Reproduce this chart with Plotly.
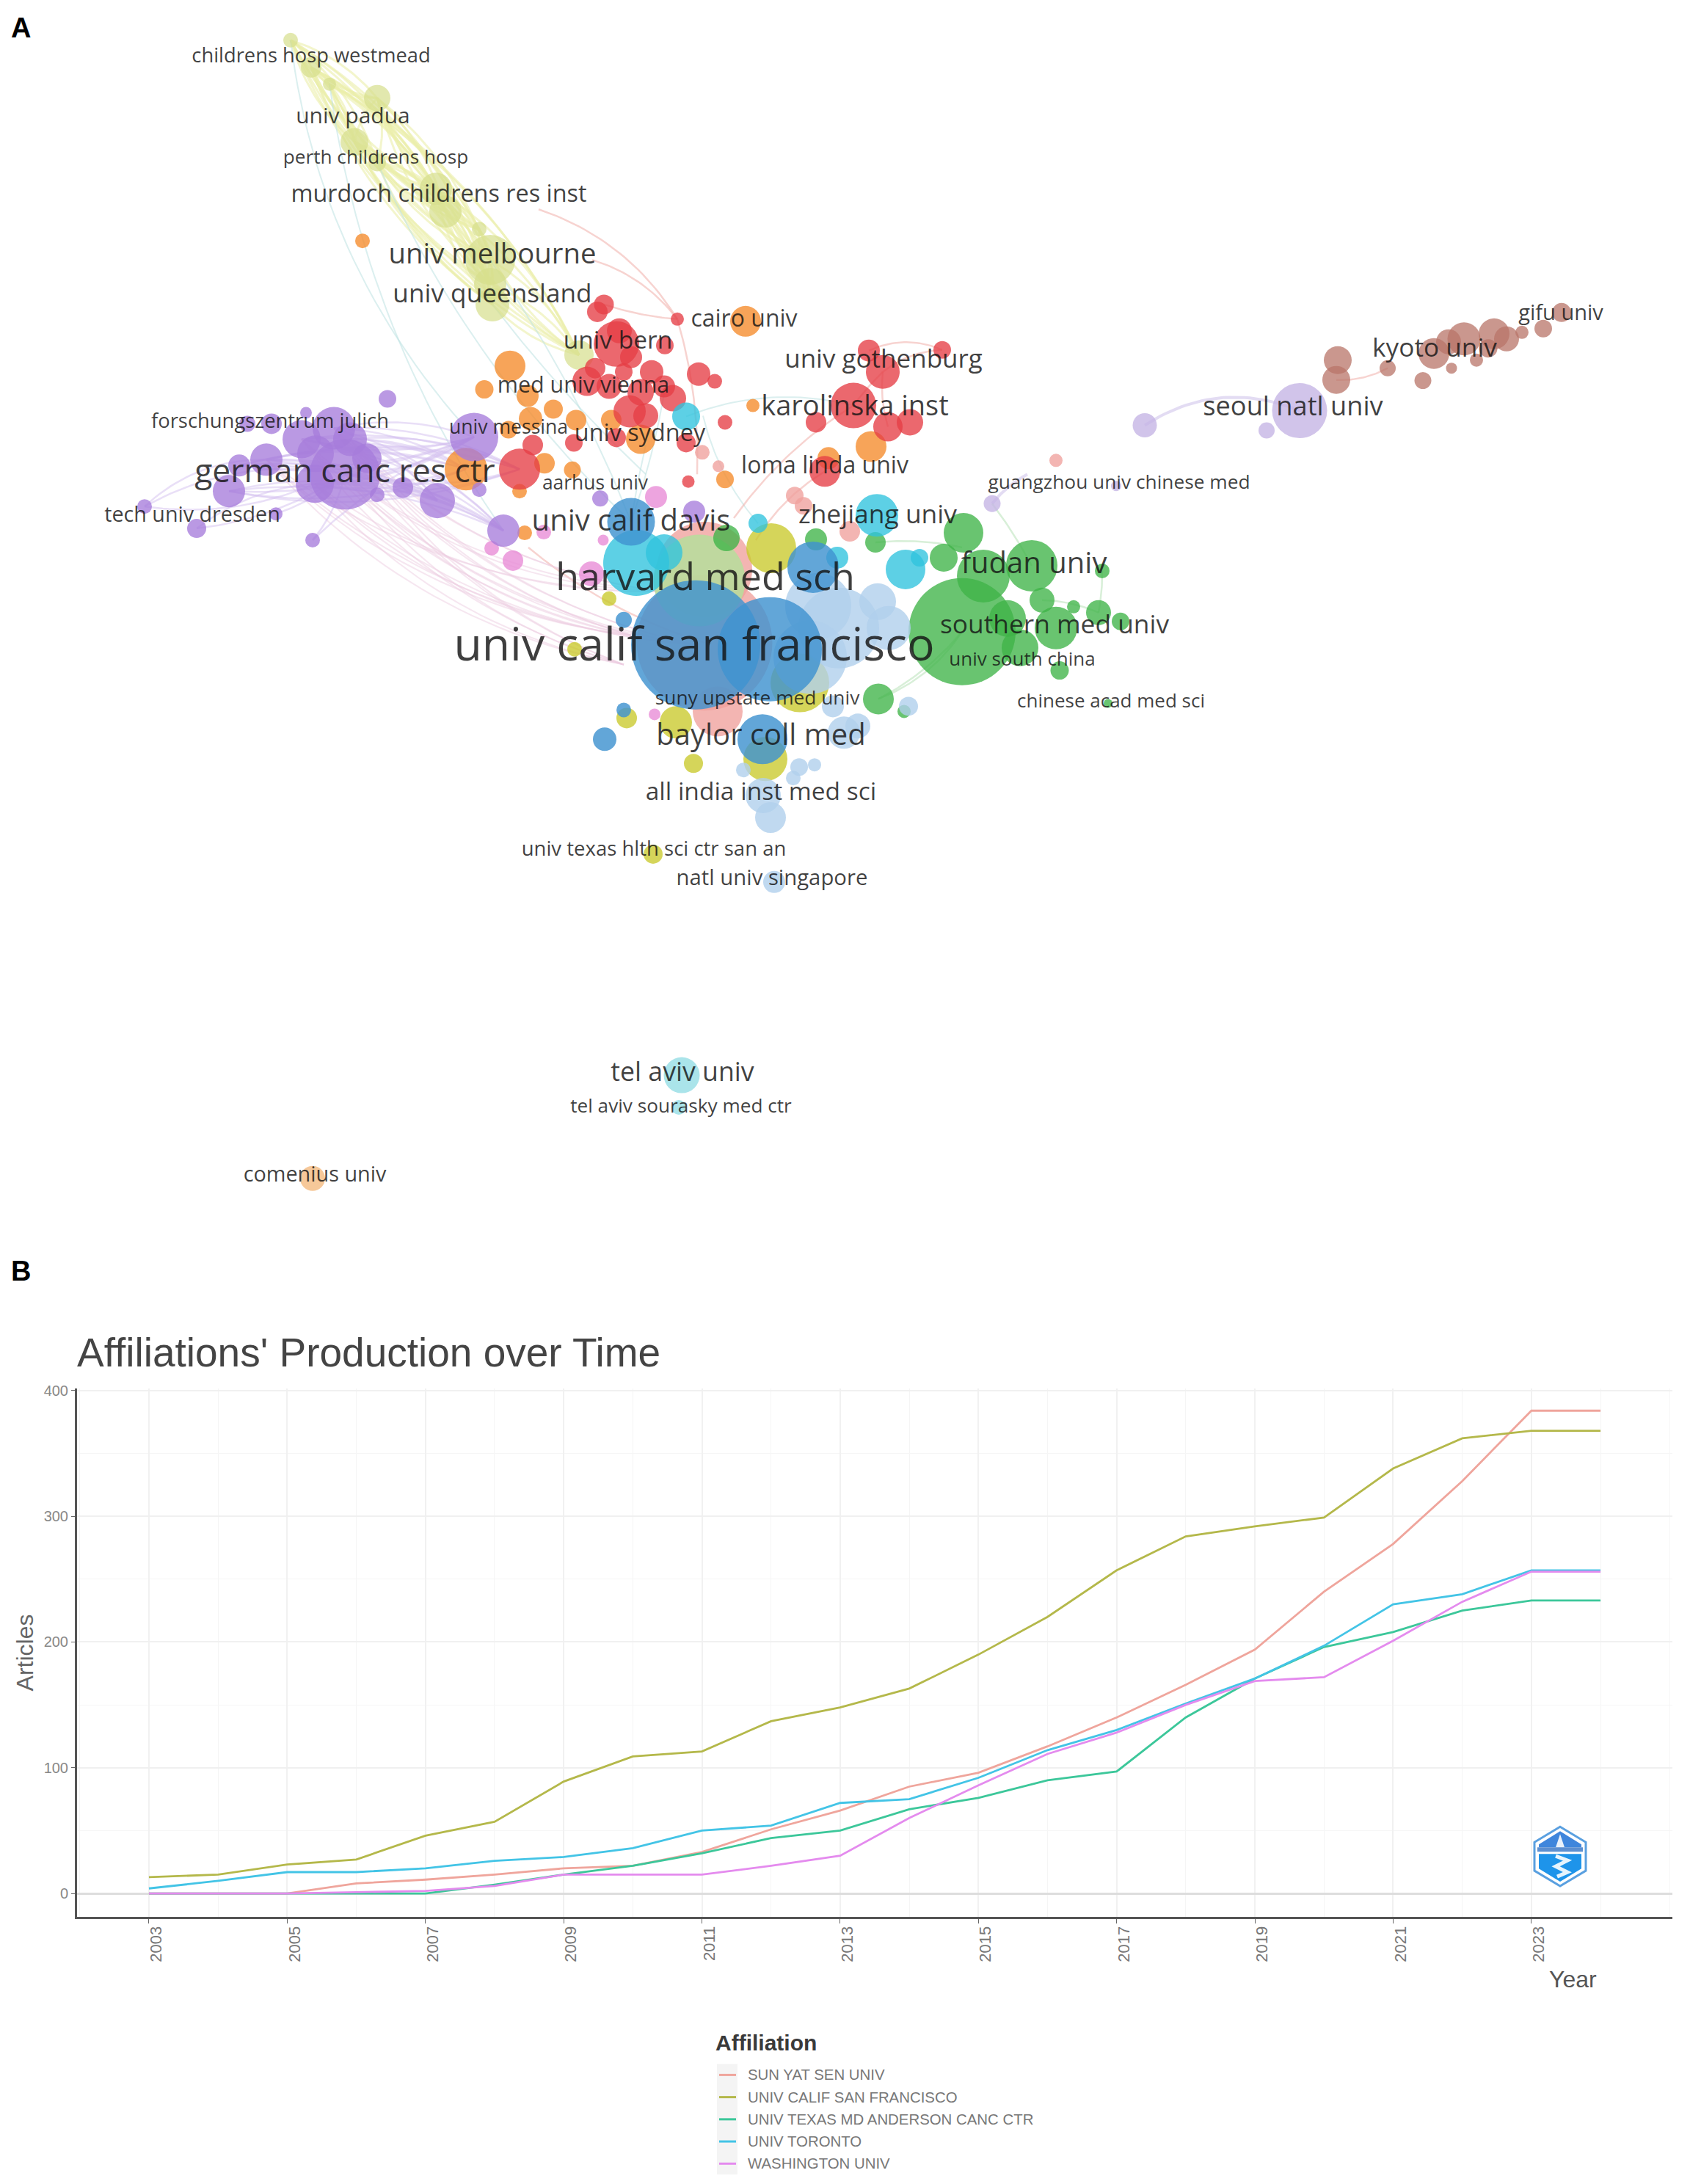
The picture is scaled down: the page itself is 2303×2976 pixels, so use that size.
from itertools import product, combinations

import numpy as np
import plotly.graph_objects as go

# --- panel B: articles per year ---
years = list(range(2003, 2025))
odd_years = [y for y in years if y % 2 == 1]
sun_yat_sen = [0, 0, 0, 8, 11, 15, 20, 22, 33, 51, 66, 85, 96, 117, 140, 166, 194, 240, 278, 328, 384, 384]
ucsf = [13, 15, 23, 27, 46, 57, 89, 109, 113, 137, 148, 163, 190, 220, 257, 284, 292, 299, 338, 362, 368, 368]
md_anderson = [0, 0, 0, 0, 0, 7, 15, 22, 32, 44, 50, 67, 76, 90, 97, 140, 171, 196, 208, 225, 233, 233]
toronto = [4, 10, 17, 17, 20, 26, 29, 36, 50, 54, 72, 75, 92, 114, 130, 151, 171, 197, 230, 238, 257, 257]
washington = [0, 0, 0, 1, 2, 6, 15, 15, 15, 22, 30, 60, 86, 111, 128, 150, 169, 172, 201, 232, 256, 256]

affiliations = ["SUN YAT SEN UNIV", "UNIV CALIF SAN FRANCISCO", "UNIV TEXAS MD ANDERSON CANC CTR",
                "UNIV TORONTO", "WASHINGTON UNIV"]
line_colors = ["#EFA59C", "#B4B84A", "#3CC79A", "#43C4E6", "#E48BEE"]

# --- panel A: network map, (x, y, diameter) in map units ---
yellow_nodes = [(396, 47, 20), (424, 84, 28), (449, 107, 18), (514, 126, 36), (483, 186, 38), (514, 214, 24),
                (594, 250, 44), (607, 281, 44), (653, 305, 20), (668, 347, 68), (668, 380, 44), (671, 408, 46),
                (789, 477, 40)]
orange_nodes = [(494, 321, 20), (1016, 431, 42), (695, 492, 42), (660, 524, 25), (719, 533, 30), (754, 551, 26),
                (723, 564, 32), (785, 566, 28), (833, 566, 28), (693, 579, 24), (873, 592, 40), (635, 633, 58),
                (742, 625, 28), (780, 634, 23), (988, 647, 24), (1026, 546, 18), (708, 663, 20), (715, 720, 20),
                (1187, 602, 42), (1129, 618, 30)]
red_nodes = [(823, 408, 27), (814, 418, 28), (923, 428, 18), (844, 444, 34), (840, 462, 62), (906, 464, 24),
             (811, 495, 28), (800, 513, 40), (850, 500, 24), (888, 500, 32), (952, 503, 32), (974, 513, 20),
             (873, 528, 36), (917, 536, 36), (858, 554, 44), (988, 569, 20), (782, 597, 24), (935, 597, 26),
             (708, 633, 56), (726, 600, 28), (938, 650, 17), (1184, 471, 30), (1203, 500, 46), (1284, 470, 24),
             (1163, 546, 62), (1112, 569, 28), (1210, 575, 40), (1240, 569, 36), (1124, 636, 42),
             (830, 520, 34), (905, 520, 30), (860, 480, 30), (880, 560, 34), (840, 590, 26)]
salmon_nodes = [(960, 770, 130), (960, 870, 185), (978, 964, 68), (1083, 669, 24), (1095, 683, 24),
                (1158, 718, 28), (1439, 621, 18), (957, 610, 20), (979, 629, 16)]
pale_green_nodes = [(953, 785, 125)]
purple_nodes = [(528, 537, 24), (417, 556, 16), (337, 571, 22), (370, 571, 28), (455, 577, 58), (411, 592, 52),
                (477, 592, 46), (470, 640, 96), (429, 653, 52), (363, 620, 44), (326, 628, 30), (312, 663, 44),
                (197, 684, 20), (268, 714, 26), (376, 694, 18), (514, 668, 20), (596, 676, 48), (646, 589, 66),
                (653, 661, 20), (426, 730, 20), (686, 717, 44), (549, 658, 28), (818, 673, 22), (946, 691, 30),
                (430, 612, 50), (500, 618, 40)]
lavender_nodes = [(1560, 573, 33), (1771, 553, 75), (1726, 580, 22), (1352, 680, 23), (1521, 656, 14)]
brown_nodes = [(1823, 484, 38), (1821, 511, 38), (1891, 495, 22), (1939, 512, 23), (1954, 475, 42), (1978, 495, 15),
               (1995, 455, 45), (2012, 484, 18), (2036, 448, 42), (2053, 455, 34), (2074, 446, 18), (2103, 441, 24),
               (2128, 419, 26), (2028, 468, 25), (1974, 459, 34)]
magenta_nodes = [(894, 671, 30), (699, 758, 28), (670, 741, 20), (806, 776, 34), (892, 968, 16), (741, 719, 20),
                 (822, 730, 15)]
green_nodes = [(1311, 855, 146), (1313, 720, 54), (1193, 733, 28), (1286, 754, 38), (1406, 765, 70), (1340, 779, 72),
               (1502, 772, 20), (1420, 812, 34), (1463, 821, 18), (1497, 829, 34), (1527, 841, 24), (1373, 837, 50),
               (1439, 850, 58), (1390, 877, 50), (1444, 908, 25), (1197, 947, 42), (1232, 964, 18), (1510, 953, 12),
               (1112, 729, 30), (990, 727, 36)]
olive_nodes = [(1051, 741, 68), (830, 810, 20), (783, 879, 20), (854, 973, 28), (921, 979, 44), (945, 1035, 26),
               (1043, 1029, 60), (1090, 925, 80), (890, 1159, 26)]
cyan_nodes = [(867, 761, 90), (905, 747, 50), (1195, 696, 58), (1033, 707, 26), (1141, 754, 30), (1234, 770, 54),
              (1253, 754, 24), (935, 561, 38)]
pale_cyan_nodes = [(929, 1461, 49), (925, 1505, 20)]
pale_orange_nodes = [(426, 1602, 34)]
light_blue_nodes = [(1143, 850, 110), (1115, 820, 90), (1196, 814, 50), (1211, 850, 60), (1104, 890, 100), (1150, 993, 44),
                    (1169, 984, 34), (1135, 957, 30), (1089, 1040, 24), (1110, 1037, 18), (1081, 1055, 20),
                    (1013, 1044, 20), (1040, 1079, 48), (1050, 1109, 42), (1055, 1197, 30), (1238, 957, 26)]
blue_nodes = [(860, 705, 65), (1108, 767, 70), (850, 839, 22), (824, 1002, 32), (1039, 1002, 68), (850, 962, 20),
              (1049, 879, 142), (948, 873, 176)]

# edges as (from, to, bend)
teal_edges = [((396, 47), (646, 589), 0.16), ((449, 107), (686, 717), 0.12), ((514, 214), (860, 705), 0.10),
              ((668, 347), (860, 705), -0.06), ((671, 408), (880, 640), 0.04), ((880, 600), (860, 705), 0.02),
              ((935, 561), (1163, 546), -0.16), ((1033, 707), (958, 560), -0.12), ((860, 705), (905, 530), 0.04)]
salmon_edges = [((734, 278), (923, 428), -0.18), ((807, 347), (923, 428), -0.16), ((923, 428), (950, 640), -0.08),
                ((823, 408), (923, 428), 0.06), ((1184, 471), (1284, 470), -0.22), ((1203, 500), (1284, 470), -0.16),
                ((1203, 500), (1163, 546), 0.04), ((1163, 546), (1000, 700), 0.10), ((1210, 575), (1203, 500), -0.10),
                ((1891, 495), (1821, 511), -0.14), ((1124, 636), (1030, 730), 0.12), ((720, 740), (960, 870), 0.10)]
lavender_edges = [((1560, 573), (1771, 553), -0.26), ((1352, 680), (1400, 640), -0.1)]
green_edges = [((1197, 947), (1311, 855), 0.16), ((1193, 733), (1311, 740), -0.08), ((1420, 812), (1497, 829), -0.1),
               ((1502, 772), (1497, 829), -0.05), ((1311, 855), (1197, 947), -0.1), ((1352, 680), (1406, 765), -0.04)]
purple_hubs = [(646, 589), (596, 676), (686, 717), (635, 633), (708, 633)]
center_hubs = [(860, 860), (900, 800), (948, 873), (850, 900)]

label_names = ["univ calif san francisco", "harvard med sch", "german canc res ctr", "baylor coll med", "fudan univ",
               "southern med univ", "univ south china", "chinese acad med sci", "suny upstate med univ",
               "univ calif davis", "zhejiang univ", "loma linda univ", "karolinska inst", "univ gothenburg",
               "cairo univ", "univ bern", "med univ vienna", "forschungszentrum julich", "univ messina", "univ sydney",
               "aarhus univ", "tech univ dresden", "childrens hosp westmead", "univ padua", "perth childrens hosp",
               "murdoch childrens res inst", "univ melbourne", "univ queensland", "guangzhou univ chinese med",
               "seoul natl univ", "kyoto univ", "gifu univ", "all india inst med sci", "univ texas hlth sci ctr san an",
               "natl univ singapore", "tel aviv univ", "tel aviv sourasky med ctr", "comenius univ"]
label_x = [946, 961, 470, 1037, 1409, 1437, 1393, 1514, 1032, 860, 1196, 1124, 1165, 1204, 1014, 842, 795, 368, 693, 872,
           811, 262, 424, 481, 512, 598, 671, 671, 1525, 1762, 1955, 2127, 1037, 891, 1052, 930, 928, 429]
label_y = [879, 785, 640, 1000, 765, 848, 895, 952, 948, 707, 698, 631, 550, 486, 430, 460, 521, 570, 578, 586, 654, 698,
           70, 153, 209, 260, 342, 396, 653, 550, 470, 422, 1077, 1154, 1194, 1460, 1506, 1599]
label_sizes = [62.5, 52, 44.5, 40, 40, 35.3, 26, 26, 26.3, 40, 35.4, 32, 38, 35, 32, 33.5, 30.5, 27.4, 26.6, 32.4, 26.4,
               28.7, 27.3, 30, 26.2, 32.4, 38.3, 35.2, 26.3, 36.2, 35.2, 29, 33.5, 27.5, 29.3, 35.7, 26.2, 28.8]


def arc(p, q, bend):
    # quadratic bezier between two map points, bend is a share of the chord length
    p, q = np.array(p[:2], float), np.array(q[:2], float)
    d = q - p
    ctrl = (p + q) / 2 + bend * np.array([-d[1], d[0]])
    t = np.linspace(0, 1, 30)[:, None]
    return (1 - t) ** 2 * p + 2 * t * (1 - t) * ctrl + t ** 2 * q


def add_edges(fig, edges, color, width):
    xs, ys = [], []
    for p, q, bend in edges:
        pts = arc(p, q, bend)
        xs += list(pts[:, 0]) + [None]
        ys += list(pts[:, 1]) + [None]
    fig.add_trace(go.Scatter(x=xs, y=ys, mode="lines", line=dict(color=color, width=width),
                             hoverinfo="skip", showlegend=False))


def add_nodes(fig, nodes, color, opacity=0.78):
    fig.add_trace(go.Scatter(x=[n[0] for n in nodes], y=[n[1] for n in nodes], mode="markers",
                             marker=dict(size=[n[2] for n in nodes], color=color, opacity=opacity, line=dict(width=0)),
                             hoverinfo="skip", showlegend=False))


# the yellow cluster is linked almost all-to-all, which gives the lens shape at the top
yellow_edges = [(a, b, 0.15 if i % 2 else -0.15) for i, (a, b) in enumerate(combinations(yellow_nodes, 2))]
purple_edges = [(a, b, -0.14 if a[1] < b[1] else 0.14) for a, b in product(purple_nodes[4:12], purple_hubs)]
purple_edges += [(purple_nodes[12], purple_nodes[7], -0.18), (purple_nodes[12], purple_nodes[8], 0.14),
                 (purple_nodes[13], purple_nodes[7], 0.12), (purple_nodes[19], purple_nodes[7], 0.12),
                 (purple_nodes[19], purple_nodes[17], -0.1), (purple_nodes[12], purple_nodes[9], -0.2),
                 (purple_nodes[13], purple_nodes[8], -0.15), (purple_nodes[14], purple_nodes[7], 0.1)]
pink_edges = [(a, b, 0.17) for a, b in product(purple_nodes[4:10], center_hubs)]

fig = go.Figure()

add_edges(fig, yellow_edges, "rgba(235,238,170,0.6)", 3)
add_edges(fig, teal_edges, "rgba(190,225,225,0.55)", 2)
add_edges(fig, salmon_edges, "rgba(240,175,170,0.55)", 2.5)
add_edges(fig, pink_edges, "rgba(238,205,225,0.5)", 2)
add_edges(fig, purple_edges, "rgba(212,192,240,0.5)", 2.5)
add_edges(fig, lavender_edges, "rgba(215,205,238,0.7)", 4)
add_edges(fig, green_edges, "rgba(190,228,190,0.6)", 2.5)

add_nodes(fig, salmon_nodes, "#F0A09C")
add_nodes(fig, pale_green_nodes, "#B9DC9C", 0.9)
add_nodes(fig, magenta_nodes, "#E88AD6")
add_nodes(fig, yellow_nodes, "#D6DE8C", 0.7)
add_nodes(fig, orange_nodes, "#F58A2A")
add_nodes(fig, red_nodes, "#E63E45")
add_nodes(fig, purple_nodes, "#A67CDB")
add_nodes(fig, lavender_nodes, "#C4B4E4")
add_nodes(fig, brown_nodes, "#B87468", 0.75)
add_nodes(fig, green_nodes, "#3FB348")
add_nodes(fig, olive_nodes, "#C9C92C")
add_nodes(fig, cyan_nodes, "#2FC3DE")
add_nodes(fig, pale_cyan_nodes, "#92DCE4")
add_nodes(fig, pale_orange_nodes, "#F4B87C")
add_nodes(fig, light_blue_nodes, "#B0CFEC", 0.8)
add_nodes(fig, blue_nodes, "#3F93CF", 0.82)

fig.add_trace(go.Scatter(x=label_x, y=label_y, mode="text", text=label_names, textposition="middle center",
                         textfont=dict(family="Open Sans", size=label_sizes, color="rgba(20,20,20,0.82)"),
                         hoverinfo="skip", showlegend=False))

series = [sun_yat_sen, ucsf, md_anderson, toronto, washington]
for name, values, color in zip(affiliations, series, line_colors):
    fig.add_trace(go.Scatter(x=years, y=values, mode="lines", name=name, line=dict(color=color, width=2.8),
                             xaxis="x2", yaxis="y2", showlegend=False))

annotations = [
    dict(x=13, y=30, text="<b>A</b>", xanchor="left", font=dict(size=38, color="black")),
    dict(x=13, y=1729, text="<b>B</b>", xanchor="left", font=dict(size=38, color="black")),
    dict(x=2143, y=2696, text="Year", xanchor="center", font=dict(size=32, color="#555555")),
    dict(x=973, y=2783, text="<b>Affiliation</b>", xanchor="left", font=dict(size=30, color="#3a3a3a")),
]
shapes = [dict(type="rect", x0=977, x1=1005, y0=2812, y1=2963, fillcolor="#f4f4f4", line=dict(width=0), layer="below")]
for i, (name, color) in enumerate(zip(affiliations, line_colors)):
    key_y = 2827 + i * 30.3
    annotations.append(dict(x=1017, y=key_y, text=name, xanchor="left", font=dict(size=20.4, color="#777777")))
    shapes.append(dict(type="line", x0=980, x1=1003, y0=key_y, y1=key_y, line=dict(color=color, width=3)))
for a in annotations:
    a.update(xref="x", yref="y", showarrow=False, yanchor="middle")
    a["font"]["family"] = "Liberation Sans"

# bibliometrix hexagon in the corner of the line chart
shapes += [
    dict(type="path", path="M 2126 2488 L 2161 2509 L 2161 2548 L 2126 2569 L 2091 2548 L 2091 2509 Z",
         fillcolor="#ffffff", line=dict(color="#5AA0E0", width=3)),
    dict(type="path", path="M 2126 2494 L 2155 2512 L 2155 2516 L 2097 2516 L 2097 2512 Z",
         fillcolor="#3F86DC", line=dict(width=0)),
    dict(type="path", path="M 2126 2498 L 2132 2516 L 2120 2516 Z", fillcolor="#EAF2FB", line=dict(width=0)),
    dict(type="rect", x0=2095, x1=2157, y0=2516, y1=2522, fillcolor="#5C8FD0", line=dict(width=0)),
    dict(type="path", path="M 2097 2525 L 2155 2525 L 2155 2545 L 2126 2563 L 2097 2545 Z",
         fillcolor="#1E94EA", line=dict(width=0)),
    dict(type="path", path="M 2120 2528 L 2136 2534 L 2120 2542 L 2136 2550 L 2122 2556",
         line=dict(color="#E6F4FD", width=5)),
]
for s in shapes:
    s.update(xref="x", yref="y")

page_w, page_h = 2303, 2976
fig.update_layout(
    width=page_w, height=page_h,
    margin=dict(l=0, r=0, t=0, b=0),
    paper_bgcolor="white", plot_bgcolor="white",
    showlegend=False,
    title=dict(text="Affiliations' Production over Time", x=105 / page_w, xanchor="left",
               y=1 - 1843 / page_h, yanchor="middle", font=dict(family="Liberation Sans", size=55, color="#444444")),
    xaxis=dict(range=[0, page_w], domain=[0, 1], visible=False, fixedrange=True),
    yaxis=dict(range=[page_h, 0], domain=[0, 1], visible=False, fixedrange=True),
    xaxis2=dict(domain=[105 / page_w, 2279 / page_w], range=[2001.96, 2025.04], anchor="y2",
                tickvals=odd_years, tickangle=-90, ticks="outside", ticklen=6, tickcolor="#666666",
                ticklabelshift=10, ticklabelstandoff=-5,
                tickfont=dict(family="Liberation Sans", size=22, color="#777777"),
                showgrid=True, gridcolor="#f1f1f1", gridwidth=1.5,
                minor=dict(dtick=1, showgrid=True, gridcolor="#f5f5f5", gridwidth=1),
                showline=True, linecolor="#555555", linewidth=3, zeroline=False),
    yaxis2=dict(domain=[1 - 2611 / page_h, 1 - 1889 / page_h], range=[-18.6, 401.7], anchor="x2",
                tickvals=[0, 100, 200, 300, 400], ticks="outside", ticklen=5, tickcolor="#666666",
                tickfont=dict(family="Liberation Sans", size=20, color="#888888"),
                title=dict(text="Articles", standoff=5, font=dict(family="Liberation Sans", size=32, color="#666666")),
                showgrid=True, gridcolor="#f0f0f0", gridwidth=2,
                minor=dict(dtick=50, showgrid=True, gridcolor="#f6f6f6", gridwidth=1),
                showline=True, linecolor="#555555", linewidth=3,
                zeroline=True, zerolinecolor="#dddddd", zerolinewidth=3),
    annotations=annotations,
    shapes=shapes,
)

fig.write_html("out.html", config={"displayModeBar": False},
               post_script="document.body.style.margin='0';")
